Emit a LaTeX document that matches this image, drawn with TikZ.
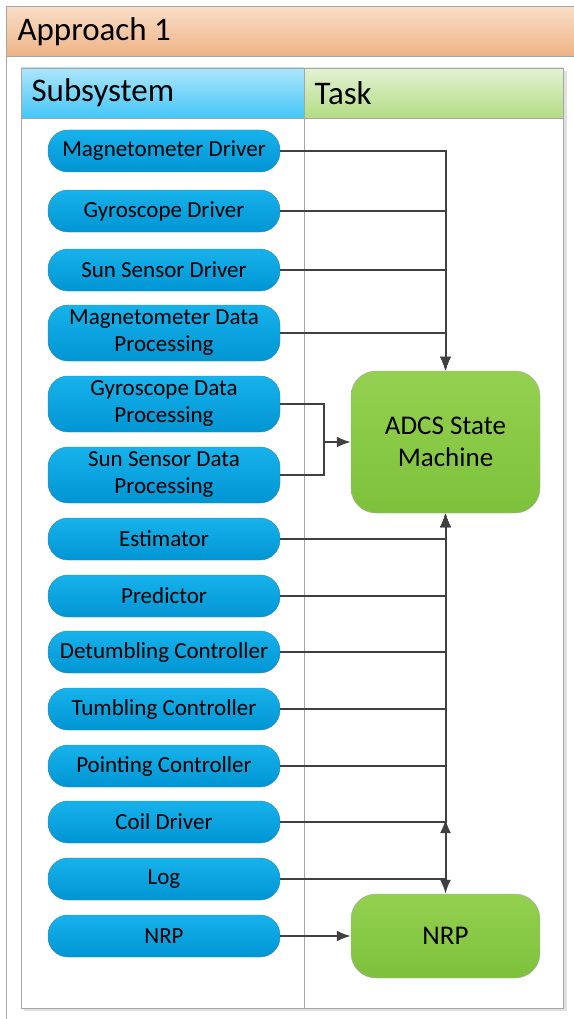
\documentclass[tikz,border=0pt]{standalone}
\usepackage{fontspec}
\setmainfont{Carlito}
\usetikzlibrary{arrows.meta}
\definecolor{linegray}{HTML}{404040}
\definecolor{framegray}{HTML}{A6A6A6}
\definecolor{pillborder}{HTML}{2A88B8}
\definecolor{pilltop}{HTML}{17B2EC}
\definecolor{pillbottom}{HTML}{0095D3}
\definecolor{greentop}{HTML}{94D050}
\definecolor{greenbottom}{HTML}{7DC23B}
\definecolor{titletop}{HTML}{F9DEC8}
\definecolor{titlebottom}{HTML}{EEB385}
\definecolor{subtop}{HTML}{ADE6FB}
\definecolor{subbottom}{HTML}{44C6F7}
\definecolor{tasktop}{HTML}{E2F2D3}
\definecolor{taskbottom}{HTML}{B3DC84}
\tikzset{
  pill/.style={draw=pillborder, top color=pilltop, bottom color=pillbottom,
    rounded corners=20pt, minimum width=232pt, minimum height=42pt,
    inner sep=0pt, align=center, font=\fontsize{23}{27}\selectfont},
  pilltwo/.style={pill, minimum height=56pt},
  taskbox/.style={draw=framegray, top color=greentop, bottom color=greenbottom,
    rounded corners=25pt, minimum width=189pt, inner sep=0pt, align=center,
    font=\fontsize{27}{32}\selectfont},
  headtext/.style={anchor=west, font=\fontsize{33}{38}\selectfont},
  wire/.style={draw=linegray, line width=2pt},
}
\begin{document}
\begin{tikzpicture}[x=1pt,y=-1pt,>={Latex[length=14pt,width=11pt]}]
\useasboundingbox (0,0) rectangle (573,1019);
% title bar and frame
\draw[framegray] (6,56) -- (6,1025);
\node[draw=framegray, top color=titletop, bottom color=titlebottom, anchor=north west,
  minimum width=572pt, minimum height=50pt, inner sep=0pt] (title) at (6,6) {};
\node[headtext] at (14,32) {Approach 1};
% table
\fill[black!12] (564,71) rectangle (567,1011);
\fill[black!12] (24,1008) rectangle (567,1011);
\draw[framegray, fill=white] (21,68) rectangle (563,1008);
\draw[framegray, top color=subtop, bottom color=subbottom] (21,68) rectangle (304,118);
\draw[framegray, top color=tasktop, bottom color=taskbottom] (304,68) rectangle (563,118);
\draw[framegray] (304,118) -- (304,1008);
\node[headtext] at (28,93) {Subsystem};
\node[headtext] at (311,93) {Task};
% subsystems
\node[pill] (magdrv) at (164,151) {Magnetometer Driver};
\node[pill] (gyrodrv) at (164,211) {Gyroscope Driver};
\node[pill] (sundrv) at (164,270) {Sun Sensor Driver};
\node[pilltwo] (magdp) at (164,333) {Magnetometer Data\\Processing};
\node[pilltwo] (gyrodp) at (164,404) {Gyroscope Data\\Processing};
\node[pilltwo] (sundp) at (164,475) {Sun Sensor Data\\Processing};
\node[pill] (est) at (164,539) {Estimator};
\node[pill] (pred) at (164,596) {Predictor};
\node[pill] (detumb) at (164,652) {Detumbling Controller};
\node[pill] (tumb) at (164,709) {Tumbling Controller};
\node[pill] (point) at (164,766) {Pointing Controller};
\node[pill] (coil) at (164,822) {Coil Driver};
\node[pill] (log) at (164,879) {Log};
\node[pill] (nrpsub) at (164,936) {NRP};
% tasks
\node[taskbox, minimum height=142pt] (adcs) at (445.5,442) {ADCS State\\Machine};
\node[taskbox, minimum height=84pt] (nrp) at (445.5,936) {NRP};
% connectors
\coordinate (merge) at (324,442);
\coordinate (coiljct) at (445.5,822);
\draw[wire,->] (magdrv.east) -| (adcs.north);
\draw[wire,->] (gyrodrv.east) -| (adcs.north);
\draw[wire,->] (sundrv.east) -| (adcs.north);
\draw[wire,->] (magdp.east) -| (adcs.north);
\draw[wire] (gyrodp.east) -| (merge);
\draw[wire] (sundp.east) -| (merge);
\draw[wire,->] (merge) -- (adcs.west);
\draw[wire,->] (est.east) -| (adcs.south);
\draw[wire,->] (pred.east) -| (adcs.south);
\draw[wire,->] (detumb.east) -| (adcs.south);
\draw[wire,->] (tumb.east) -| (adcs.south);
\draw[wire,->] (point.east) -| (adcs.south);
\draw[wire,->] (coil.east) -| (adcs.south);
\draw[wire,->] (log.east) -| (nrp.north);
\draw[wire,->] (log.east -| nrp.north) -- ([yshift=3pt]coiljct);
\draw[wire,->] (nrpsub.east) -- (nrp.west);
\end{tikzpicture}
\end{document}
